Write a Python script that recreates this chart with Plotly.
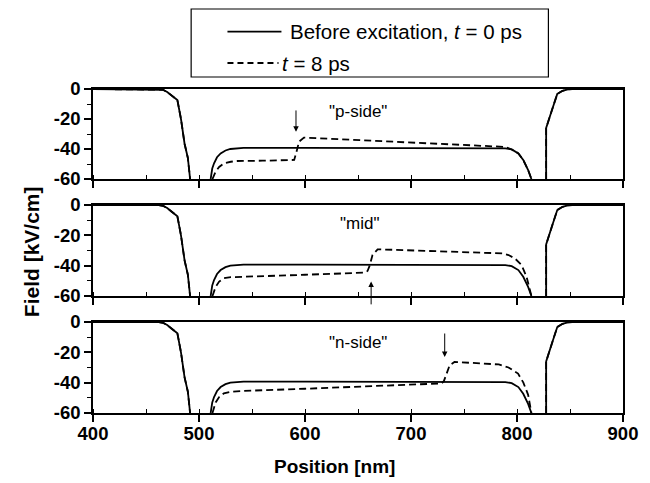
import plotly.graph_objects as go

# ---------------- data ----------------
# common depletion edges (same for both curves)
left_x = [400, 462, 466, 470, 474, 479.6, 483, 486.4, 489.5, 491.6]
left_y = [0, 0, -0.5, -2.0, -4.3, -7.4, -20, -36.5, -46, -60]
right_x = [827.5, 827.5, 833, 838, 843, 848, 852, 900]
right_y = [-60, -26, -14, -3.3, -1.2, -0.2, 0, 0]

# t = 0 ps, bulk region (identical for all three panels)
bulk0_x = [511, 512.5, 514.2, 517, 520.4, 525, 529.6, 535, 542, 600, 700, 789, 795, 801.3, 805.9, 810.5, 813.6]
bulk0_y = [-60, -53, -49.5, -45.5, -42.9, -41, -40, -39.6, -39.3, -39.3, -39.4, -39.6, -40.3, -42.9, -47.3, -54, -60]

# t = 8 ps, "p-side" excitation
p_x = [512.7, 515.7, 519, 523.5, 530, 536, 560, 589.8, 592, 594.4, 599, 647, 700, 789, 795, 801.3, 805.9, 810.5, 813.6]
p_y = [-60, -55, -52, -49.5, -48.5, -48, -47.8, -47.3, -41.8, -35.1, -32.4, -34, -35.7, -38.6, -40.3, -42.9, -47.3, -54, -60]

# t = 8 ps, "mid" excitation
m_x = [512.7, 515.7, 519, 523.5, 530, 540, 600, 656, 659, 661, 663.7, 668.5, 720, 786, 792, 798, 804.3, 809, 813.6]
m_y = [-60, -54, -50.5, -48.3, -47.6, -47.3, -46, -44.6, -43.5, -40, -33, -29.2, -30.3, -31.9, -33, -35.2, -39.6, -47.3, -60]

# t = 8 ps, "n-side" excitation
n_x = [512.7, 515.7, 519, 523.5, 530, 540, 600, 665, 728.7, 731, 733.5, 736.5, 741, 782.8, 792, 801, 806, 810.5, 813.6]
n_y = [-60, -53, -49.5, -47, -46, -45.5, -44, -42.1, -40.5, -39, -34, -28.5, -26.3, -28, -30, -34, -40, -48, -60]

panel_labels = ['"p-side"', '"mid"', '"n-side"']
label_pos = [(649.7, -15.3), (651.6, -12.0), (649.7, -13.2)]
arrows = [(591.5, -28.5, -13.3), (662.4, -50.5, -66.5), (731.8, -23.0, -6.6)]  # x, tip y, tail y

y_tickvals = [-60, -40, -20, 0]
y_ticktext = ["-60", "-40", "-20", "0"]
x_tickvals = [400, 500, 600, 700, 800, 900]
x_ticktext = ["400", "500", "600", "700", "800", "900"]

legend_text = ["Before excitation, <i>t</i> = 0 ps", "<i>t</i> = 8 ps"]
x_title = "Position [nm]"
y_title = "Field [kV/cm]"

# ---------------- figure ----------------
W, H = 650, 483
L, R, T, B = 93, 17, 89, 70
PW, PH = W - L - R, H - T - B

def py(px):  # pixel y -> paper y
    return (H - B - px) / PH

def pxx(px):  # pixel x -> paper x
    return (px - L) / PW

domains = [[py(179), 1.0], [py(296), py(205)], [0.0, py(322)]]

fig = go.Figure()
FONT = "Liberation Sans, Arial, sans-serif"
LW = 1.8

def join(*segs):
    xs, ys = [], []
    for sx, sy in segs:
        if xs:
            xs.append(None); ys.append(None)
        xs += sx; ys += sy
    return xs, ys

excited = [(p_x, p_y), (m_x, m_y), (n_x, n_y)]
for i in range(3):
    xa = "x" if i == 0 else f"x{i+1}"
    ya = "y" if i == 0 else f"y{i+1}"
    sx, sy = join((left_x, left_y), (bulk0_x, bulk0_y), (right_x, right_y))
    fig.add_trace(go.Scatter(x=sx, y=sy, mode="lines", xaxis=xa, yaxis=ya,
                             line=dict(color="black", width=LW), showlegend=False,
                             hoverinfo="skip"))
    dx, dy = join((left_x, left_y), excited[i], (right_x, right_y))
    fig.add_trace(go.Scatter(x=dx, y=dy, mode="lines", xaxis=xa, yaxis=ya,
                             line=dict(color="black", width=LW, dash="7px,4px"),
                             showlegend=False, hoverinfo="skip"))

tickfont = dict(family=FONT, size=18.5, color="black", weight="bold")
layout = dict(width=W, height=H, margin=dict(l=L, r=R, t=T, b=B, pad=0),
              plot_bgcolor="white", paper_bgcolor="white", showlegend=False)

for i in range(3):
    n = "" if i == 0 else str(i + 1)
    layout[f"xaxis{n}"] = dict(domain=[0, 1], range=[400, 900], anchor=f"y{n}",
                               showline=True, linecolor="black", linewidth=1.5, mirror=True,
                               ticks="outside", ticklen=7, tickwidth=1.5, tickcolor="black",
                               tickvals=x_tickvals, ticktext=x_ticktext,
                               showgrid=False, zeroline=False, ticklabelstandoff=-4,
                               showticklabels=(i == 2), tickfont=tickfont,
                               minor=dict(ticks="inside", dtick=50, tick0=400, ticklen=4,
                                          tickwidth=1.2, tickcolor="black", showgrid=False))
    layout[f"yaxis{n}"] = dict(domain=domains[i], range=[-60, 0], anchor=f"x{n}",
                               showline=True, linecolor="black", linewidth=1.5, mirror=True,
                               ticks="outside", ticklen=7, tickwidth=1.5, tickcolor="black",
                               tickvals=y_tickvals, ticktext=y_ticktext,
                               showgrid=False, zeroline=False, tickfont=tickfont,
                               minor=dict(ticks="outside", dtick=10, tick0=0, ticklen=4,
                                          tickwidth=1.2, tickcolor="black", showgrid=False))
    # top inside ticks (every 50 nm)
    k = i + 4
    layout[f"xaxis{k}"] = dict(overlaying="x" if i == 0 else f"x{i+1}", anchor=f"y{n}",
                               side="top", range=[400, 900], ticks="inside", ticklen=5,
                               tickwidth=1.2, tickcolor="black", tick0=400, dtick=50,
                               showticklabels=False, showgrid=False, zeroline=False,
                               showline=False)
# right inside ticks on the lowest panel
layout["yaxis7"] = dict(overlaying="y3", anchor="x3", side="right", range=[-60, 0],
                        ticks="inside", ticklen=5, tickwidth=1.2, tickcolor="black",
                        tick0=0, dtick=10, showticklabels=False, showgrid=False,
                        zeroline=False, showline=False)
fig.update_layout(**layout)

ann = []
for i in range(3):
    n = "" if i == 0 else str(i + 1)
    xr, yr = f"x{n}", f"y{n}"
    lx, ly = label_pos[i]
    ann.append(dict(x=lx, y=ly, xref=xr, yref=yr, text=panel_labels[i], showarrow=False,
                    xanchor="center", yanchor="middle",
                    font=dict(family=FONT, size=17, color="black")))
    ax_, tip, tail = arrows[i]
    ann.append(dict(x=ax_, y=tip, xref=xr, yref=yr, ax=ax_, ay=tail, axref=xr, ayref=yr,
                    text="", showarrow=True, arrowhead=2, arrowsize=1.1, arrowwidth=1,
                    arrowcolor="black", standoff=0, startstandoff=0))

ann.append(dict(x=pxx(30), y=py(252), xref="paper", yref="paper", text=y_title,
                textangle=-90, showarrow=False, xanchor="center", yanchor="middle",
                font=dict(family=FONT, size=21, color="black", weight="bold")))
ann.append(dict(x=pxx(339), y=py(466), xref="paper", yref="paper", text=x_title,
                showarrow=False, xanchor="center", yanchor="middle",
                font=dict(family=FONT, size=19, color="black", weight="bold")))

# legend box (manual)
ann.append(dict(x=pxx(292), y=py(31.7), xref="paper", yref="paper", text=legend_text[0],
                xanchor="left", yanchor="middle", showarrow=False,
                font=dict(family=FONT, size=20.5, color="black")))
ann.append(dict(x=pxx(284), y=py(63), xref="paper", yref="paper", text=legend_text[1],
                xanchor="left", yanchor="middle", showarrow=False,
                font=dict(family=FONT, size=20.5, color="black")))
fig.update_layout(annotations=ann)

shapes = [
    dict(type="rect", xref="paper", yref="paper", x0=pxx(193), x1=pxx(557), y0=py(77), y1=py(9),
         line=dict(color="black", width=1.2), fillcolor="white"),
    dict(type="line", xref="paper", yref="paper", x0=pxx(230), x1=pxx(285), y0=py(31.7), y1=py(31.7),
         line=dict(color="black", width=LW)),
    dict(type="line", xref="paper", yref="paper", x0=pxx(230), x1=pxx(282), y0=py(63), y1=py(63),
         line=dict(color="black", width=LW, dash="6px,4px")),
]
fig.update_layout(shapes=shapes)

fig.write_html("out.html")
